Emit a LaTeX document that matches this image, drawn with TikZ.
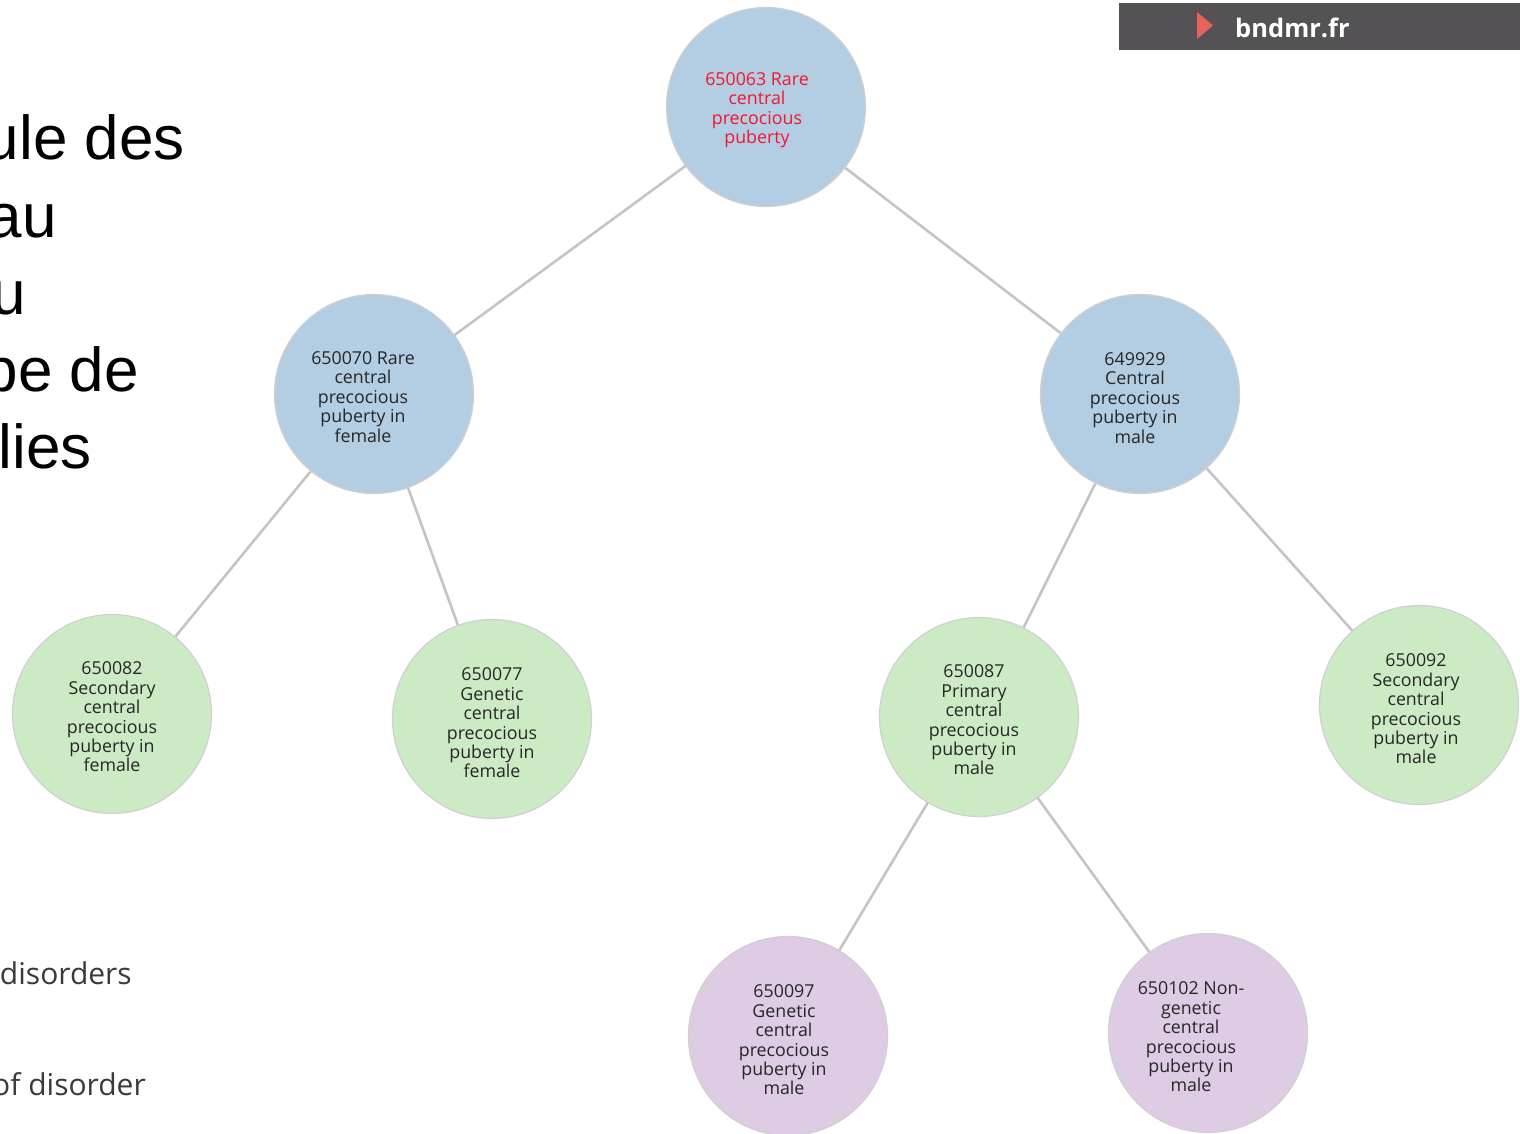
\documentclass[tikz,border=0pt]{standalone}
\usepackage{fontspec}
\setmainfont{Open Sans}
\newfontfamily\arialfont{Liberation Sans}
\definecolor{nodeblue}{HTML}{B3CDE3}
\definecolor{nodegreen}{HTML}{CCEBC5}
\definecolor{nodepurple}{HTML}{DECBE4}
\definecolor{edgegray}{HTML}{C4C4C4}
\definecolor{ringgray}{HTML}{D0D0D0}
\definecolor{bargray}{HTML}{545255}
\definecolor{arrowred}{HTML}{E8625C}
\definecolor{rootred}{HTML}{F2162E}
\definecolor{notegray}{HTML}{3A3A3A}

\begin{document}
\begin{tikzpicture}[x=1pt, y=-1pt,
    disorder/.style={circle, minimum size=199pt, inner sep=0pt, draw=ringgray, line width=1.2pt},
    nodetext/.style={align=center, inner sep=0pt, text=black!85, font=\fontsize{17.8}{19.4}\selectfont},
    slidetext/.style={anchor=base east, inner sep=0pt, font=\arialfont\fontsize{62}{70}\selectfont},
    notetext/.style={anchor=base east, inner sep=0pt, text=notegray, font=\fontsize{30}{36}\selectfont},
    link/.style={draw=edgegray, line width=2.6pt}]

    \useasboundingbox (0,0) rectangle (1520,1134);
    \clip (0,0) rectangle (1520,1134);

    \node[slidetext] (slide1) at (185,160) {ule des};
    \node[slidetext] (slide2) at (57,237) {au};
    \node[slidetext] (slide3) at (26,314) {u};
    \node[slidetext] (slide4) at (139,391) {pe de};
    \node[slidetext] (slide5) at (92,468) {lies};
    \node[notetext] (note1) at (132,984) {disorders};
    \node[notetext] (note2) at (146,1095) {of disorder};

    \fill[bargray] (1119,3) rectangle (1520,50);
    \fill[arrowred] (1197,12) -- (1213,25.5) -- (1197,39) -- cycle;
    \node[anchor=base west, inner sep=0pt, text=white, font=\bfseries\fontsize{25.5}{30}\selectfont] (site) at (1235,38) {bndmr.fr};

    \node[disorder, fill=nodeblue] (n650063) at (766,107) {};
    \node[disorder, fill=nodeblue] (n650070) at (374,394) {};
    \node[disorder, fill=nodeblue] (n649929) at (1140,394) {};
    \node[disorder, fill=nodegreen] (n650082) at (112,714) {};
    \node[disorder, fill=nodegreen] (n650077) at (492,719) {};
    \node[disorder, fill=nodegreen] (n650087) at (979,717) {};
    \node[disorder, fill=nodegreen] (n650092) at (1419,705) {};
    \node[disorder, fill=nodepurple] (n650097) at (788,1036) {};
    \node[disorder, fill=nodepurple] (n650102) at (1208,1033) {};

    \draw[link] (n650063) -- (n650070);
    \draw[link] (n650063) -- (n649929);
    \draw[link] (n650070) -- (n650082);
    \draw[link] (n650070) -- (n650077);
    \draw[link] (n649929) -- (n650087);
    \draw[link] (n649929) -- (n650092);
    \draw[link] (n650087) -- (n650097);
    \draw[link] (n650087) -- (n650102);

    \node[nodetext, text=rootred] (t650063) at (757,110) {650063 Rare\\central\\precocious\\puberty};
    \node[nodetext] (t650070) at (363,397) {650070 Rare\\central\\precocious\\puberty in\\female};
    \node[nodetext] (t649929) at (1135,398) {649929\\Central\\precocious\\puberty in\\male};
    \node[nodetext] (t650082) at (112,717) {650082\\Secondary\\central\\precocious\\puberty in\\female};
    \node[nodetext] (t650077) at (492,723) {650077\\Genetic\\central\\precocious\\puberty in\\female};
    \node[nodetext] (t650087) at (974,720) {650087\\Primary\\central\\precocious\\puberty in\\male};
    \node[nodetext] (t650092) at (1416,709) {650092\\Secondary\\central\\precocious\\puberty in\\male};
    \node[nodetext] (t650097) at (784,1040) {650097\\Genetic\\central\\precocious\\puberty in\\male};
    \node[nodetext] (t650102) at (1191,1037) {650102 Non-\\genetic\\central\\precocious\\puberty in\\male};

\end{tikzpicture}
\end{document}
